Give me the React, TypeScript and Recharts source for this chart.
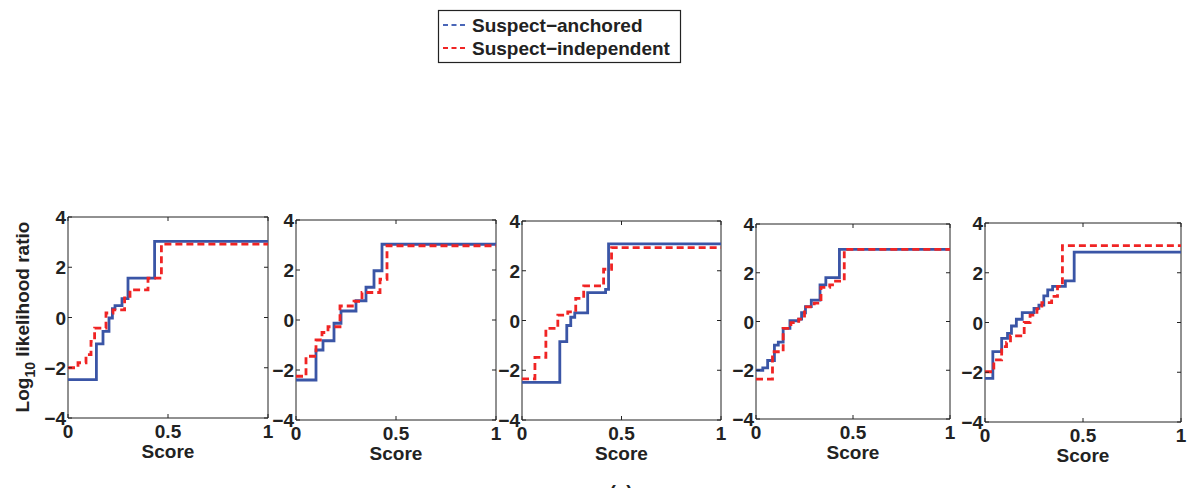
import React from "react";
import { LineChart, Line, XAxis, YAxis, ReferenceArea } from "recharts";

type Pt = [number, number];

const seriesNames = ["Suspect−anchored", "Suspect−independent"];
const xTicks = [0, 0.5, 1];
const yTicks = [-4, -2, 0, 2, 4];

// [score, log10 LR] step starts
const panel1Anchored: Pt[] = [[0, -2.47], [0.142, -1.05], [0.175, -0.55], [0.205, -0.02], [0.222, 0.35], [0.235, 0.47], [0.27, 0.75], [0.3, 1.57], [0.433, 3.03], [1, 3.03]];
const panel1Independent: Pt[] = [[0, -2.0], [0.05, -1.8], [0.09, -1.48], [0.115, -0.95], [0.133, -0.42], [0.19, 0.18], [0.225, 0.3], [0.283, 0.78], [0.31, 1.1], [0.4, 1.57], [0.467, 2.92], [1, 2.92]];

const panel2Anchored: Pt[] = [[0, -2.4], [0.1, -1.2], [0.135, -0.83], [0.19, -0.13], [0.225, 0.36], [0.3, 0.77], [0.35, 1.31], [0.39, 1.97], [0.43, 3.03], [1, 3.03]];
const panel2Independent: Pt[] = [[0, -2.25], [0.05, -1.45], [0.1, -0.8], [0.13, -0.5], [0.16, -0.27], [0.22, 0.56], [0.29, 0.75], [0.33, 1.1], [0.42, 1.63], [0.455, 2.97], [1, 2.97]];

const panel3Anchored: Pt[] = [[0, -2.49], [0.19, -0.85], [0.225, -0.2], [0.245, 0.13], [0.265, 0.31], [0.33, 1.12], [0.42, 1.25], [0.435, 3.08], [1, 3.08]];
const panel3Independent: Pt[] = [[0, -2.35], [0.065, -1.48], [0.12, -0.32], [0.18, 0.22], [0.23, 0.35], [0.27, 0.89], [0.31, 1.39], [0.41, 2.06], [0.45, 2.93], [1, 2.93]];

const panel4Anchored: Pt[] = [[0, -2.0], [0.035, -1.9], [0.06, -1.6], [0.095, -0.97], [0.115, -0.85], [0.14, -0.28], [0.175, 0.03], [0.22, 0.1], [0.235, 0.36], [0.255, 0.61], [0.285, 0.88], [0.33, 1.5], [0.36, 1.8], [0.43, 2.96], [1, 2.96]];
const panel4Independent: Pt[] = [[0, -2.36], [0.085, -1.24], [0.14, -0.28], [0.18, -0.05], [0.22, 0.1], [0.25, 0.6], [0.3, 0.75], [0.335, 1.4], [0.38, 1.5], [0.41, 1.66], [0.455, 2.96], [1, 2.96]];

const panel5Anchored: Pt[] = [[0, -2.25], [0.04, -1.17], [0.085, -0.64], [0.115, -0.44], [0.135, -0.14], [0.16, 0.13], [0.19, 0.4], [0.25, 0.57], [0.275, 0.7], [0.3, 1.07], [0.32, 1.31], [0.345, 1.45], [0.41, 1.67], [0.455, 2.83], [1, 2.83]];
const panel5Independent: Pt[] = [[0, -1.98], [0.045, -1.5], [0.085, -0.97], [0.11, -0.8], [0.13, -0.54], [0.2, 0.0], [0.23, 0.3], [0.265, 0.55], [0.29, 0.8], [0.34, 1.05], [0.37, 1.45], [0.395, 3.09], [1, 3.09]];

const panels = [
  { anchored: panel1Anchored, independent: panel1Independent, left: 68, top: 217, w: 200, h: 201 },
  { anchored: panel2Anchored, independent: panel2Independent, left: 296, top: 220, w: 200, h: 200 },
  { anchored: panel3Anchored, independent: panel3Independent, left: 522, top: 221, w: 199, h: 199 },
  { anchored: panel4Anchored, independent: panel4Independent, left: 756, top: 224, w: 194, h: 195 },
  { anchored: panel5Anchored, independent: panel5Independent, left: 985, top: 223, w: 196, h: 199 },
];

const FONT = "'Liberation Sans', Arial, sans-serif";
const INK = "#222";
const BLUE = "#3a55a6";
const RED = "#f02424";

const toRows = (pts: Pt[]) => pts.map(([x, y]) => ({ x, y }));
const fmt = (v: number) => (v < 0 ? "−" + Math.abs(v) : String(v));

function XTick(props: any) {
  const { x, y, payload, plotH } = props;
  return (
    <g>
      <line x1={x} x2={x} y1={y} y2={y - 4} stroke={INK} />
      <line x1={x} x2={x} y1={y - plotH} y2={y - plotH + 4} stroke={INK} />
      <text x={x} y={y + 20} textAnchor="middle" fontSize={19} fontWeight="bold" fontFamily={FONT} fill={INK}>
        {payload.value}
      </text>
    </g>
  );
}

function YTick(props: any) {
  const { x, y, payload, plotW } = props;
  return (
    <g>
      <line x1={x} x2={x + 4} y1={y} y2={y} stroke={INK} />
      <line x1={x + plotW} x2={x + plotW - 4} y1={y} y2={y} stroke={INK} />
      <text x={x - 2} y={y + 7} textAnchor="end" fontSize={19} fontWeight="bold" fontFamily={FONT} fill={INK}>
        {fmt(payload.value)}
      </text>
    </g>
  );
}

function Panel({ p, idx }: { p: (typeof panels)[number]; idx: number }) {
  const yw = idx === 0 ? p.left : 40;
  const mTop = 10;
  return (
    <div style={{ position: "absolute", left: p.left - yw, top: p.top - mTop }}>
      <LineChart width={yw + p.w + 10} height={mTop + p.h + 50} margin={{ top: mTop, right: 10, left: 0, bottom: 0 }}>
        <XAxis
          type="number"
          dataKey="x"
          domain={[0, 1]}
          ticks={xTicks}
          axisLine={false}
          tickLine={false}
          tickSize={0}
          tickMargin={0}
          height={50}
          interval={0}
          allowDataOverflow
          tick={(t: any) => <XTick {...t} plotH={p.h} />}
          label={{
            content: ({ viewBox }: any) => (
              <text x={viewBox.x + viewBox.width / 2} y={viewBox.y + 40} textAnchor="middle" fontSize={19} fontWeight="bold" fontFamily={FONT} fill={INK}>
                Score
              </text>
            ),
          }}
        />
        <YAxis
          type="number"
          domain={[-4, 4]}
          ticks={yTicks}
          axisLine={false}
          tickLine={false}
          tickSize={0}
          tickMargin={0}
          width={yw}
          interval={0}
          allowDataOverflow
          tick={(t: any) => <YTick {...t} plotW={p.w} />}
          label={
            idx === 0
              ? {
                  content: () => (
                    <text transform="translate(29,110) rotate(-90)" textAnchor="middle" fontSize={19} fontWeight="bold" fontFamily={FONT} fill={INK}>
                      Log<tspan fontSize={14} dy={6}>10</tspan>
                      <tspan dy={-6}> likelihood ratio</tspan>
                    </text>
                  ),
                }
              : undefined
          }
        />
        <ReferenceArea x1={0} x2={1} y1={-4} y2={4} fill="none" stroke={INK} strokeWidth={1} />
        <Line
          data={toRows(p.anchored)}
          dataKey="y"
          name={seriesNames[0]}
          type="stepAfter"
          stroke={BLUE}
          strokeWidth={2.8}
          dot={false}
          isAnimationActive={false}
        />
        <Line
          data={toRows(p.independent)}
          dataKey="y"
          name={seriesNames[1]}
          type="stepAfter"
          stroke={RED}
          strokeWidth={2.8}
          strokeDasharray="7 4"
          dot={false}
          isAnimationActive={false}
        />
      </LineChart>
    </div>
  );
}

export default function App() {
  return (
    <div style={{ position: "absolute", left: 0, top: 0, width: 1187, height: 488, background: "#fff", overflow: "hidden" }}>
      {panels.map((p, i) => (
        <Panel key={i} p={p} idx={i} />
      ))}
      <svg width={1187} height={488} style={{ position: "absolute", left: 0, top: 0, pointerEvents: "none" }}>
        <rect x={438.5} y={10.5} width={242} height={52} fill="#fff" stroke={INK} strokeWidth={1.2} />
        <line x1={443} x2={468} y1={25} y2={25} stroke="#4a66b8" strokeWidth={2} strokeDasharray="5 3.5" />
        <line x1={443} x2={468} y1={48} y2={48} stroke={RED} strokeWidth={2} strokeDasharray="5 3.5" />
        <text x={472} y={32} fontSize={19} fontWeight="bold" fontFamily={FONT} fill={INK}>
          {seriesNames[0]}
        </text>
        <text x={472} y={55} fontSize={19} fontWeight="bold" fontFamily={FONT} fill={INK}>
          {seriesNames[1]}
        </text>
        <text x={621} y={498} textAnchor="middle" fontSize={19} fontWeight="bold" fontFamily={FONT} fill={INK}>
          (a)
        </text>
      </svg>
    </div>
  );
}
